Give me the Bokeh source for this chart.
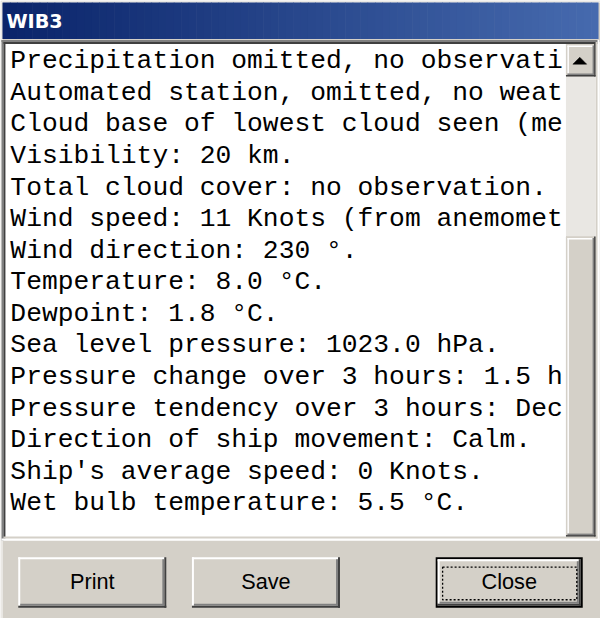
from bokeh.plotting import figure
from bokeh.models import Range1d
from bokeh.core.properties import value
from bokeh.embed import file_html
from bokeh.resources import INLINE

# ---- content ----
TITLE = ["WIB3"]
LINES = [
    "Precipitation omitted, no observati",
    "Automated station, omitted, no weat",
    "Cloud base of lowest cloud seen (me",
    "Visibility: 20 km.",
    "Total cloud cover: no observation.",
    "Wind speed: 11 Knots (from anemomet",
    "Wind direction: 230 \u00b0.",
    "Temperature: 8.0 \u00b0C.",
    "Dewpoint: 1.8 \u00b0C.",
    "Sea level pressure: 1023.0 hPa.",
    "Pressure change over 3 hours: 1.5 h",
    "Pressure tendency over 3 hours: Dec",
    "Direction of ship movement: Calm.",
    "Ship's average speed: 0 Knots.",
    "Wet bulb temperature: 5.5 \u00b0C.",
]
BUTTONS = ["Print", "Save", "Close"]

# ---- layout (reference pixel space) ----
BTN_L = [26, 202, 449]
BTN_R = [176, 352, 598]
BTN_T, BTN_B = 572, 623
LINE0, LINE_STEP, TEXT_X = 78, 32, 18

FACE = "#D4D0C8"
W = 600
H = 618
S = W / 608.0
BASE_FIX = 0.32  # baseline correction, in em


def fix(y, size_px):
    return y - BASE_FIX * size_px


p = figure(width=W, height=H, output_backend="svg", toolbar_location=None,
           x_range=Range1d(8, 616), y_range=Range1d(634, 8),
           min_border=0, outline_line_color=None, background_fill_color="white",
           border_fill_color="white")
p.xaxis.visible = False
p.yaxis.visible = False
p.grid.visible = False

L, R, T, B, C = [], [], [], [], []


def rect(x0, y0, x1, y1, c):
    L.append(x0); R.append(x1); T.append(y0); B.append(y1); C.append(c)


def raised(x0, y0, x1, y1, outer_hi="white", w=2):
    rect(x0, y0, x1, y1, FACE)
    rect(x0, y0, x1 - w, y0 + w, outer_hi)
    rect(x0, y0, x0 + w, y1 - w, outer_hi)
    if outer_hi != "white":
        rect(x0 + w, y0 + w, x1 - 2 * w, y0 + 2 * w, "white")
        rect(x0 + w, y0 + w, x0 + 2 * w, y1 - 2 * w, "white")
    rect(x0, y1 - w, x1, y1, "#404040")
    rect(x1 - w, y0, x1, y1, "#404040")
    rect(x0 + w, y1 - 2 * w, x1 - w, y1 - w, "#808080")
    rect(x1 - 2 * w, y0 + w, x1 - w, y1 - w, "#808080")


# window background and frame
rect(8, 8, 616, 634, FACE)
rect(9, 9, 616, 10, "white")
rect(9, 9, 10, 634, "white")

# title bar gradient
c0 = (0x0A, 0x24, 0x6A)
c1 = (0x46, 0x6A, 0xAE)
n = 80
tx0, tx1 = 10, 614
for i in range(n):
    f = i / (n - 1)
    col = "#%02x%02x%02x" % tuple(int(round(a + (b - a) * f)) for a, b in zip(c0, c1))
    xa = tx0 + (tx1 - tx0) * i / n
    xb = tx0 + (tx1 - tx0) * (i + 1) / n + 0.6
    rect(xa, 10, min(xb, tx1), 47, col)

# text box (sunken)
bx0, by0, bx1, by1 = 9, 48, 615, 555
rect(bx0, by0, bx1, by1, "white")
rect(bx0, by0, bx1, by0 + 2, "#808080")
rect(bx0, by0, bx0 + 2, by1, "#808080")
rect(bx0 + 2, by0 + 2, bx1 - 2, by0 + 4, "#404040")
rect(bx0 + 2, by0 + 2, bx0 + 4, by1 - 2, "#404040")
rect(bx0, by1 - 2, bx1, by1, "white")
rect(bx1 - 2, by0, bx1, by1, "white")
rect(bx0 + 2, by1 - 4, bx1 - 2, by1 - 2, FACE)
rect(bx1 - 4, by0 + 2, bx1 - 2, by1 - 2, FACE)

# scrollbar
sx0, sx1 = 581, 611
rect(sx0, 52, sx1, 551, "#E9E7E3")
raised(sx0, 52, sx1, 85, outer_hi=FACE, w=1.5)
raised(sx0, 247, sx1, 551, outer_hi=FACE, w=1.5)

# buttons
for i in range(len(BUTTONS)):
    if BUTTONS[i] == "Close":
        rect(BTN_L[i], BTN_T, BTN_R[i], BTN_B, "black")
        raised(BTN_L[i] + 2, BTN_T + 2, BTN_R[i] - 2, BTN_B - 2)
    else:
        raised(BTN_L[i], BTN_T, BTN_R[i], BTN_B)

p.quad(left=L, right=R, top=T, bottom=B, fill_color=C, line_color=None)

# scroll up arrow
p.patch(x=[588, 602, 595], y=[72.5, 72.5, 65.5], fill_color="black", line_color="black", line_width=0.5)

# focus rectangle on default button
ci = BUTTONS.index("Close")
p.quad(left=[BTN_L[ci] + 7], right=[BTN_R[ci] - 6], top=[BTN_T + 10], bottom=[BTN_B - 8],
       fill_color=None, line_color="black", line_width=1.3, line_dash="2 2")

# title text
tsize = 19.5
p.text(x=[14], y=[fix(36, tsize)], text=TITLE, text_font=value("DejaVu Sans"),
       text_font_style="bold", text_font_size="%.1fpx" % (tsize * S), text_color="white",
       text_baseline="alphabetic")

# report lines
lsize = 26.67
p.text(x=[TEXT_X] * len(LINES),
       y=[fix(LINE0 + LINE_STEP * i, lsize) for i in range(len(LINES))],
       text=LINES, text_font=value("Liberation Mono"), text_font_size="%.1fpx" % (lsize * S),
       text_color="black", text_baseline="alphabetic")

# button labels
bsize = 22
p.text(x=[(BTN_L[i] + BTN_R[i]) / 2 for i in range(len(BUTTONS))],
       y=[fix(604, bsize)] * len(BUTTONS), text=BUTTONS,
       text_font=value("Liberation Sans"),
       text_font_size="%.1fpx" % (bsize * S),
       text_color="black", text_align="center", text_baseline="alphabetic")

open("out.html", "w").write(file_html(p, INLINE))
